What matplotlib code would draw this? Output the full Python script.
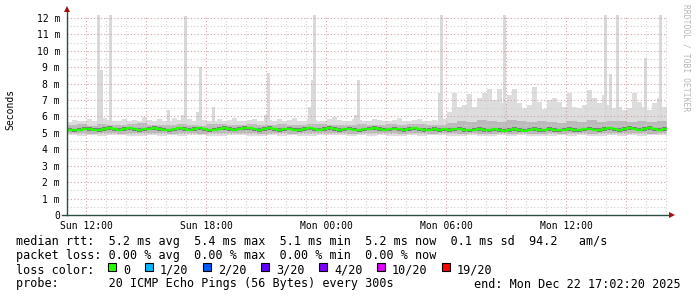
import numpy as np
import matplotlib
matplotlib.use('Agg')
import matplotlib.pyplot as plt
from matplotlib.patches import Rectangle

W, H = 697, 297

# time axis: hours since Sun 00:00
T0 = 11.05
FINE = 0.25
COARSE = 0.5

# median rtt (ms), one value per 15 min
rtt_med = [5.20, 5.15, 5.18, 5.22, 5.25, 5.20, 5.17, 5.23, 5.28, 5.22,
           5.19, 5.24, 5.27, 5.21, 5.18, 5.22, 5.26, 5.30, 5.25, 5.20,
           5.17, 5.22, 5.28, 5.24, 5.19, 5.23, 5.27, 5.21, 5.16, 5.20,
           5.25, 5.29, 5.23, 5.20, 5.26, 5.31, 5.27, 5.22, 5.18, 5.24,
           5.28, 5.21, 5.17, 5.22, 5.26, 5.20, 5.18, 5.23, 5.27, 5.22,
           5.19, 5.24, 5.28, 5.23, 5.18, 5.21, 5.25, 5.20, 5.16, 5.22,
           5.26, 5.30, 5.24, 5.19, 5.21, 5.25, 5.22, 5.18, 5.23, 5.27,
           5.21, 5.17, 5.20, 5.24, 5.19, 5.22, 5.18, 5.21, 5.25, 5.19,
           5.16, 5.20, 5.24, 5.18, 5.15, 5.21, 5.17, 5.13, 5.19, 5.23,
           5.18, 5.14, 5.20, 5.24, 5.19, 5.16, 5.22, 5.18, 5.15, 5.20,
           5.24, 5.19, 5.16, 5.21, 5.25, 5.20, 5.17, 5.23, 5.27, 5.21,
           5.18, 5.24, 5.29, 5.25, 5.20, 5.23, 5.28, 5.22, 5.19, 5.24]

# top of the light smoke (ms), per 15 min
rtt_hi = [5.65, 5.80, 5.75, 5.70, 5.85, 5.75, 5.70, 5.90, 5.80, 5.75,
          5.70, 5.85, 5.75, 5.80, 5.70, 5.95, 5.80, 5.75, 5.85, 5.70,
          5.75, 5.90, 5.80, 5.70, 5.85, 5.75, 5.95, 5.80, 5.70, 5.75,
          5.85, 5.70, 5.80, 5.90, 5.75, 5.70, 5.80, 5.85, 5.75, 5.70,
          5.80, 5.75, 5.85, 5.70, 5.80, 5.90, 5.75, 5.70, 5.85, 5.80,
          5.70, 5.75, 5.85, 5.95, 5.80, 5.70, 5.75, 5.85, 5.80, 5.70,
          5.75, 5.85, 5.80, 5.70, 5.75, 5.80, 5.90, 5.75, 5.70, 5.80,
          5.85, 5.75, 5.70, 5.80, 5.75, 5.85,
          6.30, 7.40, 6.60, 6.70, 7.35, 6.60, 7.10, 7.40, 7.65, 7.00,
          7.70, 6.80, 7.30, 7.65, 6.80, 6.50, 6.70, 7.80, 6.90, 6.45,
          7.00, 7.10, 6.90, 6.60, 7.40, 6.60, 6.50, 6.70, 7.60, 7.10,
          6.80, 7.30, 6.70, 6.50, 6.55, 6.40, 6.50, 7.40, 6.90, 6.60,
          6.40, 6.80, 7.10, 6.60]

# bottom of the light smoke, per 30 min
rtt_lo = [4.85, 4.80, 4.88, 4.82, 4.86, 4.90, 4.84, 4.80, 4.87, 4.83,
          4.88, 4.82, 4.85, 4.90, 4.84, 4.81, 4.86, 4.89, 4.83, 4.80,
          4.87, 4.84, 4.88, 4.82, 4.80, 4.86, 4.90, 4.85, 4.81, 4.87,
          4.83, 4.88, 4.84, 4.80, 4.86, 4.82, 4.89, 4.85, 4.83, 4.80,
          4.86, 4.82, 4.79, 4.85, 4.81, 4.87, 4.83, 4.80, 4.84, 4.86,
          4.82, 4.88, 4.84, 4.80, 4.86, 4.83, 4.87, 4.81, 4.85, 4.88]

# medium smoke band, per 30 min
mid_lo = [4.98, 5.00, 4.96, 5.02, 4.99, 4.95, 5.01, 4.97, 5.00, 4.98,
          4.96, 5.01, 4.99, 4.95, 5.00, 5.02, 4.97, 4.99, 5.01, 4.96,
          4.98, 5.00, 4.95, 4.99, 5.02, 4.97, 4.98, 5.00, 4.96, 5.01,
          4.99, 4.97, 5.00, 4.95, 4.98, 5.01, 4.96, 4.99, 4.97, 4.94,
          4.98, 4.96, 4.93, 4.99, 4.95, 4.97, 4.94, 4.96, 4.99, 4.95,
          4.97, 5.00, 4.96, 4.98, 5.01, 4.97, 5.00, 4.98, 4.96, 5.00]
mid_hi = [5.48, 5.52, 5.45, 5.55, 5.50, 5.46, 5.53, 5.58, 5.49, 5.51,
          5.47, 5.55, 5.50, 5.45, 5.52, 5.56, 5.48, 5.51, 5.54, 5.47,
          5.50, 5.53, 5.46, 5.49, 5.55, 5.52, 5.48, 5.51, 5.46, 5.54,
          5.50, 5.47, 5.53, 5.49, 5.52, 5.56, 5.48, 5.50, 5.62, 5.75,
          5.68, 5.80, 5.72, 5.65, 5.78, 5.70, 5.66, 5.74, 5.69, 5.63,
          5.71, 5.67, 5.76, 5.64, 5.70, 5.73, 5.66, 5.72, 5.68, 5.70]

# dark smoke band, per 15 min
dark_lo = [5.12, 5.08, 5.11, 5.15, 5.13, 5.10, 5.07, 5.12, 5.16, 5.11,
           5.09, 5.14, 5.17, 5.10, 5.08, 5.13, 5.15, 5.19, 5.14, 5.10,
           5.07, 5.12, 5.17, 5.13, 5.09, 5.14, 5.16, 5.10, 5.06, 5.11,
           5.15, 5.18, 5.12, 5.10, 5.16, 5.20, 5.15, 5.11, 5.08, 5.14,
           5.17, 5.10, 5.07, 5.12, 5.16, 5.09, 5.08, 5.13, 5.16, 5.11,
           5.09, 5.14, 5.17, 5.12, 5.08, 5.10, 5.15, 5.09, 5.06, 5.12,
           5.15, 5.19, 5.13, 5.09, 5.10, 5.15, 5.11, 5.08, 5.13, 5.16,
           5.10, 5.07, 5.09, 5.14, 5.08, 5.12, 5.07, 5.10, 5.15, 5.08,
           5.06, 5.09, 5.14, 5.07, 5.05, 5.10, 5.06, 5.03, 5.08, 5.13,
           5.07, 5.04, 5.10, 5.13, 5.08, 5.06, 5.12, 5.07, 5.05, 5.09,
           5.14, 5.08, 5.06, 5.10, 5.15, 5.09, 5.07, 5.12, 5.16, 5.10,
           5.08, 5.13, 5.18, 5.15, 5.09, 5.12, 5.17, 5.11, 5.09, 5.13]
dark_hi = [5.30, 5.26, 5.29, 5.34, 5.36, 5.29, 5.27, 5.33, 5.39, 5.31,
           5.28, 5.35, 5.37, 5.30, 5.27, 5.32, 5.37, 5.41, 5.34, 5.29,
           5.26, 5.32, 5.38, 5.35, 5.28, 5.33, 5.38, 5.30, 5.25, 5.30,
           5.36, 5.40, 5.33, 5.29, 5.37, 5.42, 5.36, 5.31, 5.28, 5.34,
           5.39, 5.30, 5.27, 5.32, 5.36, 5.29, 5.28, 5.33, 5.38, 5.31,
           5.29, 5.34, 5.39, 5.33, 5.28, 5.30, 5.35, 5.29, 5.26, 5.32,
           5.36, 5.41, 5.34, 5.28, 5.31, 5.36, 5.32, 5.28, 5.33, 5.38,
           5.31, 5.27, 5.30, 5.35, 5.29, 5.32, 5.28, 5.31, 5.36, 5.29,
           5.26, 5.30, 5.35, 5.28, 5.25, 5.31, 5.27, 5.23, 5.29, 5.34,
           5.28, 5.24, 5.30, 5.35, 5.29, 5.26, 5.33, 5.28, 5.25, 5.30,
           5.35, 5.29, 5.26, 5.31, 5.36, 5.30, 5.27, 5.34, 5.38, 5.31,
           5.28, 5.35, 5.40, 5.36, 5.30, 5.33, 5.39, 5.32, 5.29, 5.35]

# isolated max-rtt spikes: time (h) and height (ms)
spike_t = [12.625, 12.75, 13.225, 16.10, 16.80, 16.975, 17.575, 17.70, 18.35,
           20.975, 21.10, 23.15, 23.325, 23.425, 25.475, 25.60, 29.65, 29.775,
           32.90, 37.975, 38.20, 38.575, 39.975, 40.70]
spike_h = [12.5, 8.85, 12.5, 6.4, 6.1, 12.1, 6.25, 9.0, 6.6,
           6.1, 8.65, 6.6, 8.2, 12.5, 6.1, 8.2, 7.4, 12.5,
           12.5, 12.5, 8.6, 12.5, 9.55, 12.5]

tick_hours = [12, 18, 24, 30, 36]
tick_names = ['Sun 12:00', 'Sun 18:00', 'Mon 00:00', 'Mon 06:00', 'Mon 12:00']

loss_labels = ['0', '1/20', '2/20', '3/20', '4/20', '10/20', '19/20']
loss_colors = ['#26ff00', '#00b8ff', '#0059ff', '#5e00ff', '#7e00ff', '#dd00ff', '#ff0000']

legend_lines = [
    'median rtt:  5.2 ms avg  5.4 ms max  5.1 ms min  5.2 ms now  0.1 ms sd  94.2   am/s',
    'packet loss: 0.00 % avg  0.00 % max  0.00 % min  0.00 % now',
    'loss color:',
    'probe:       20 ICMP Echo Pings (56 Bytes) every 300s',
]
end_text = 'end: Mon Dec 22 17:02:20 2025'

MONO = 'DejaVu Sans Mono'


def fx(x):
    return x / W


def fy(y):
    return 1 - y / H


fig = plt.figure(figsize=(W / 100, H / 100), dpi=100)
fig.patch.set_facecolor('white')
ax = fig.add_axes([fx(67), fy(215), 600 / W, 200 / H])
ax.set_xlim(T0, T0 + 30)
ax.set_ylim(0, 12.18)
for s in ax.spines.values():
    s.set_visible(False)

t_f = T0 + FINE * np.arange(len(rtt_med) + 1)
t_c = T0 + COARSE * np.arange(len(rtt_lo) + 1)


def ext(v):
    return list(v) + [v[-1]]


# smoke
ax.fill_between(t_c, ext(rtt_lo), 5.3, step='post', color='#dddddd', lw=0, zorder=1)
ax.fill_between(t_f, 5.3, ext(rtt_hi), step='post', color='#dddddd', lw=0, zorder=1)
ax.bar(spike_t, np.array(spike_h) - 5.0, bottom=5.0, width=0.15,
       color='#d9d9d9', lw=0, zorder=1)
ax.fill_between(t_c, ext(mid_lo), ext(mid_hi), step='post', color='#bababa', lw=0, zorder=2)
ax.fill_between(t_f, ext(dark_lo), ext(dark_hi), step='post', color='#7a7a7a', lw=0, zorder=2)

# grid
for h in np.arange(12, 42, 1):
    major = h % 3 == 0
    ax.axvline(h, color='#cda4a4' if major else '#cfcfcf', lw=0.8,
               ls=(0, (1, 2)), zorder=3)
for v in np.arange(0.5, 12.1, 0.5):
    major = v == int(v)
    ax.axhline(v, color='#cda4a4' if major else '#cfcfcf', lw=0.8,
               ls=(0, (1, 2)), zorder=3)

# median line
ax.step(t_f, ext(rtt_med), where='post', color='#26ff00', lw=1.6, zorder=4)

# axes lines and arrows
ax.plot([T0, T0], [0, 12.45], color='#2c4d43', lw=1.0, clip_on=False, zorder=5)
ax.plot([T0 - 0.25, T0 + 30.1], [0, 0], color='#2c4d43', lw=1.0, clip_on=False, zorder=5)
ax.plot([T0], [12.55], marker='^', ms=4, color='#a01010', mew=0, clip_on=False, zorder=6)
ax.plot([T0 + 30.25], [0], marker='>', ms=4, color='#a01010', mew=0, clip_on=False, zorder=6)

ax.set_yticks(range(13))
ax.set_yticklabels(['0'] + ['%d m' % i for i in range(1, 13)])
ax.set_xticks(tick_hours)
ax.set_xticklabels(tick_names)
ax.tick_params(axis='both', length=0, labelsize=7)
ax.tick_params(axis='y', pad=5)
ax.tick_params(axis='x', pad=4)
for lab in ax.get_xticklabels() + ax.get_yticklabels():
    lab.set_family(MONO)

fig.text(fx(10), fy(109), 'Seconds', rotation=90, ha='center', va='center',
         family=MONO, fontsize=7)
fig.text(fx(686), fy(4), 'RRDTOOL / TOBI OETIKER', rotation=270, ha='center',
         va='top', family=MONO, fontsize=5.8, color='#b8b8b8')

# legend
baselines = [245, 259.5, 273.5, 287.5]
for txt, yb in zip(legend_lines, baselines):
    fig.text(fx(16), fy(yb), txt, family=MONO, fontsize=8.5, va='baseline')
fig.text(fx(681), fy(287.5), end_text, family=MONO, fontsize=8.5,
         va='baseline', ha='right')

box_x = [108, 145, 203, 261, 319, 377, 442]
for bx, lab, col in zip(box_x, loss_labels, loss_colors):
    fig.patches.append(Rectangle((fx(bx), fy(271)), 8 / W, 8 / H,
                                 transform=fig.transFigure, facecolor=col,
                                 edgecolor='black', lw=0.8))
    fig.text(fx(bx + 15), fy(273.5), lab, family=MONO, fontsize=8.5, va='baseline')

fig.savefig('out.png', dpi=100)
